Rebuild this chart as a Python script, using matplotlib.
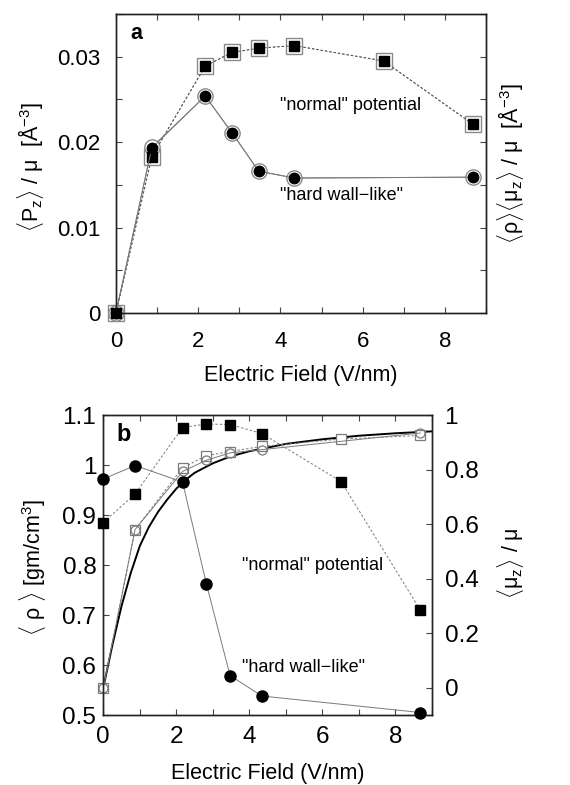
import matplotlib
matplotlib.use("Agg")
import matplotlib.pyplot as plt
from matplotlib.ticker import MultipleLocator

plt.rcParams['font.family'] = ['Liberation Sans', 'DejaVu Sans']
plt.rcParams['mathtext.fontset'] = 'custom'
plt.rcParams['mathtext.rm'] = 'Liberation Sans'
plt.rcParams['mathtext.it'] = 'Liberation Sans:italic'
plt.rcParams['mathtext.bf'] = 'Liberation Sans:bold'

# ---------------- data ----------------
E_normal = [0, 0.87, 2.17, 2.82, 3.47, 4.34, 6.51, 8.68]
E_hard = [0, 0.87, 2.17, 2.82, 3.47, 4.34, 8.68]

# panel a
pz_normal = [0, 0.0183, 0.0289, 0.0305, 0.0310, 0.0313, 0.0295, 0.0221]
rhomu_normal = [0, 0.0183, 0.0289, 0.0305, 0.0310, 0.0313, 0.0295, 0.0221]
pz_hard = [0, 0.0193, 0.0254, 0.0211, 0.0166, 0.0158, 0.0159]
rhomu_hard = [0, 0.0194, 0.0254, 0.0211, 0.0166, 0.0158, 0.0159]

# panel b
rho_normal = [0.885, 0.942, 1.075, 1.082, 1.081, 1.063, 0.967, 0.710]
rho_hard = [0.972, 0.999, 0.966, 0.763, 0.579, 0.538, 0.505]
muz_normal = [0, 0.58, 0.806, 0.851, 0.866, 0.885, 0.912, 0.925]
muz_hard = [0, 0.58, 0.793, 0.834, 0.861, 0.873, 0.934]

theory_E = [0, 0.25, 0.5, 0.75, 1.0, 1.25, 1.5, 1.75, 2.0, 2.25, 2.5, 3.0,
            3.5, 4.0, 5.0, 6.0, 7.0, 8.0, 9.0]
theory_muz = [0, 0.157, 0.30, 0.42, 0.52, 0.59, 0.645, 0.69, 0.73, 0.762,
              0.788, 0.823, 0.849, 0.867, 0.894, 0.911, 0.924, 0.933, 0.940]

xticks = [0, 2, 4, 6, 8]

gray = '#7a7a7a'
dash = (0, (2.5, 2))
W, H = 570, 785

fig = plt.figure(figsize=(5.7, 7.85), dpi=100)

def style_axis(ax):
    for s in ax.spines.values():
        s.set_linewidth(1.0)
        s.set_color('#222222')
    ax.tick_params(which='both', direction='in', length=4.5, width=0.8,
                   color='#444444')

def ftext(x, y, s, **kw):
    fig.text(x / W, 1 - y / H, s, ha='center', va='center', **kw)

# ---------------- panel a ----------------
axa = fig.add_axes([116/W, 1-313/H, (486-116)/W, (313-14)/H])
axa2 = axa.twinx()
axa.set_xlim(0, 9)
axa.set_ylim(0, 0.035)
axa2.set_ylim(0, 0.035)

axa2.plot(E_normal, rhomu_normal, linestyle=dash, color=gray, lw=0.7,
          marker='s', ms=11, mfc='white', mec='#8a8a8a', mew=1.0,
          clip_on=False, zorder=2)
axa2.plot(E_hard, rhomu_hard, linestyle='-', color=gray, lw=0.7,
          marker='o', ms=11, mfc='white', mec='#8a8a8a', mew=1.0,
          clip_on=False, zorder=2)
axa.plot(E_normal, pz_normal, linestyle=dash, color='#555555', lw=0.7,
         marker='s', ms=7.2, mfc='black', mec='black', clip_on=False, zorder=3)
axa.plot(E_hard, pz_hard, linestyle='-', color=gray, lw=0.7,
         marker='o', ms=7.5, mfc='black', mec='black', clip_on=False, zorder=3)
axa.set_zorder(axa2.get_zorder() + 1)
axa.patch.set_visible(False)

axa.set_xticks(xticks)
axa.xaxis.set_minor_locator(MultipleLocator(1))
axa.set_yticks([0, 0.01, 0.02, 0.03])
axa.set_yticklabels(['0', '0.01', '0.02', '0.03'])
axa.yaxis.set_minor_locator(MultipleLocator(0.005))
axa2.yaxis.set_major_locator(MultipleLocator(0.005))
axa2.set_yticklabels([])
axa.tick_params(labelsize=16, top=True, which='both')
for ax in (axa, axa2):
    style_axis(ax)
axa.tick_params(axis='x', pad=13)
axa.tick_params(axis='y', pad=11)
ftext(301, 375, 'Electric Field (V/nm)', fontsize=15.5)
ftext(30, 167, r'$\langle$P$_\mathrm{z}$$\rangle$ / μ  [Å$^{-3}$]',
      fontsize=15.5, rotation=90)
ftext(511, 164, r'$\langle$ρ$\rangle$$\langle$μ$_\mathrm{z}$$\rangle$ / μ  [Å$^{-3}$]',
      fontsize=15.5, rotation=90)
axa.text(0.04, 0.935, 'a', transform=axa.transAxes, fontsize=15.5,
         fontweight='bold', va='center', ha='left')
axa.text(3.99, 0.0243, '"normal" potential', fontsize=13, va='center')
axa.text(3.99, 0.0138, '"hard wall\u2212like"', fontsize=13, va='center')

# ---------------- panel b ----------------
axb = fig.add_axes([103.3/W, 1-715/H, (432-103.3)/W, (715-415)/H])
axb2 = axb.twinx()
axb.set_xlim(0, 9)
axb.set_ylim(0.5, 1.1)
axb2.set_ylim(-0.1, 1.0)

axb2.plot(theory_E, theory_muz, '-', color='black', lw=1.4, zorder=1)
axb2.plot(E_normal, muz_normal, linestyle=dash, color=gray, lw=0.7,
          marker='s', ms=6.5, mfc='white', mec=gray, mew=0.9,
          clip_on=False, zorder=2)
axb2.plot(E_hard, muz_hard, linestyle='-', color=gray, lw=0.7,
          marker='o', ms=6.5, mfc='none', mec=gray, mew=0.9,
          clip_on=False, zorder=2)
axb.plot(E_normal, rho_normal, linestyle=dash, color=gray, lw=0.7,
         marker='s', ms=7.8, mfc='black', mec='black', clip_on=False, zorder=3)
axb.plot(E_hard, rho_hard, linestyle='-', color=gray, lw=0.7,
         marker='o', ms=8, mfc='black', mec='black', clip_on=False, zorder=3)
axb.set_zorder(axb2.get_zorder() + 1)
axb.patch.set_visible(False)

axb.set_xticks(xticks)
axb.xaxis.set_minor_locator(MultipleLocator(1))
axb.set_yticks([0.5, 0.6, 0.7, 0.8, 0.9, 1.0, 1.1])
axb.set_yticklabels(['0.5', '0.6', '0.7', '0.8', '0.9', '1', '1.1'])
axb2.set_yticks([0, 0.2, 0.4, 0.6, 0.8, 1.0])
axb2.set_yticklabels(['0', '0.2', '0.4', '0.6', '0.8', '1'])
axb.tick_params(labelsize=17.5, top=True, which='both')
axb2.tick_params(labelsize=17.5)
for ax in (axb, axb2):
    style_axis(ax)
axb.tick_params(axis='x', pad=8)
axb.tick_params(axis='y', pad=5)
axb2.tick_params(axis='y', pad=9)
ftext(267.5, 773, 'Electric Field (V/nm)', fontsize=15.5)
ftext(33, 568, r'$\langle$ ρ $\rangle$ [gm/cm$^3$]', fontsize=15.5, rotation=90)
ftext(510, 563, r'$\langle$μ$_\mathrm{z}$$\rangle$ / μ', fontsize=15.5,
      rotation=90)
axb.text(0.04, 0.935, 'b', transform=axb.transAxes, fontsize=17,
         fontweight='bold', va='center', ha='left')
axb.text(3.79, 0.8, '"normal" potential', fontsize=13, va='center')
axb.text(3.79, 0.594, '"hard wall\u2212like"', fontsize=13, va='center')

fig.savefig('out.png', dpi=100)
